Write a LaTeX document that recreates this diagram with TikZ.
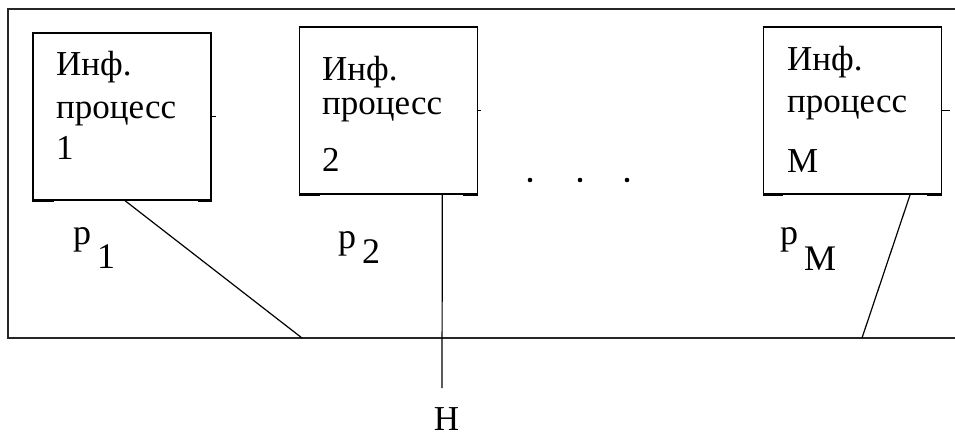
\documentclass[tikz,border=0pt]{standalone}
\usepackage{fontspec}
\setmainfont{Liberation Serif}
\usetikzlibrary{calc}

\tikzset{
  procbox/.style={draw, line width=1.4pt, minimum width=178pt, minimum height=167pt, inner sep=0pt},
  proctext/.style={anchor=base west, align=left, inner sep=0pt, font=\fontsize{35}{42}\selectfont},
  plabel/.style={anchor=base west, inner sep=0pt, font=\fontsize{36}{36}\selectfont},
  corner/.style={line width=3pt},
  link/.style={line width=1.2pt}
}

\begin{document}
\begin{tikzpicture}[x=1pt, y=-1pt]
    \useasboundingbox (0,0) rectangle (955,439);
    % outer frame, open on the right
    \draw[line width=2pt, black!85] (955,9) -- (8,9) -- (8,338) -- (955,338);
    % processes
    \node[procbox] (b1) at (122,116.5) {};
    \node[procbox] (b2) at (388.5,110.5) {};
    \node[procbox] (bM) at (852.5,110.5) {};
    % text anchored at the baseline of its last line
    \node[proctext] (t1) at (56,159) {Инф.\\[1pt]процесс\\[-1pt]1};
    \node[proctext] (t2) at (322,171) {Инф.\\[-8pt]процесс\\[15pt]2};
    \node[proctext] (tM) at (787,172) {Инф.\\[0pt]процесс\\[18pt]M};
    % thick corners and side marks
    \draw[corner] (b1.south west) -- ++(22,0);
    \draw[corner] (b1.south east) -- ++(-14,0);
    \draw[corner] (b2.south west) -- ++(21,0);
    \draw[corner] (b2.south east) -- ++(-15,0);
    \draw[corner] (bM.south west) -- ++(20,0);
    \draw[corner] (bM.south east) -- ++(-15,0);
    \draw[link] (b1.east) -- ++(4,0);
    \draw[link] (b2.east) -- ++(3,0);
    \draw[link] (bM.east) -- ++(8,0);
    % dots
    \fill (530,180) circle (2.3);
    \fill (580,180) circle (2.3);
    \fill (627,180) circle (2.3);
    % probabilities
    \node[plabel] (p1) at (73,244) {p\,\raisebox{-24pt}{1}};
    \node[plabel] (p2) at (338,248) {p\,\raisebox{-15pt}{2}};
    \node[plabel] (pM) at (780,244) {p\,\raisebox{-26pt}{M}};
    % connections to the bus
    \coordinate (j1) at (302,338);
    \coordinate (jM) at (862,338);
    \coordinate (hend) at (442,388);
    \draw[link] ($(b1.south west)!0.517!(b1.south east)$) -- (j1);
    \draw[link] ($(b2.south west)!0.8!(b2.south east)$) -- (hend);
    \draw[link] ($(bM.south west)!0.821!(bM.south east)$) -- (jM);
    \node[anchor=base, inner sep=0pt, font=\fontsize{35}{35}\selectfont] (h) at (446.5,430) {Н};
\end{tikzpicture}
\end{document}
